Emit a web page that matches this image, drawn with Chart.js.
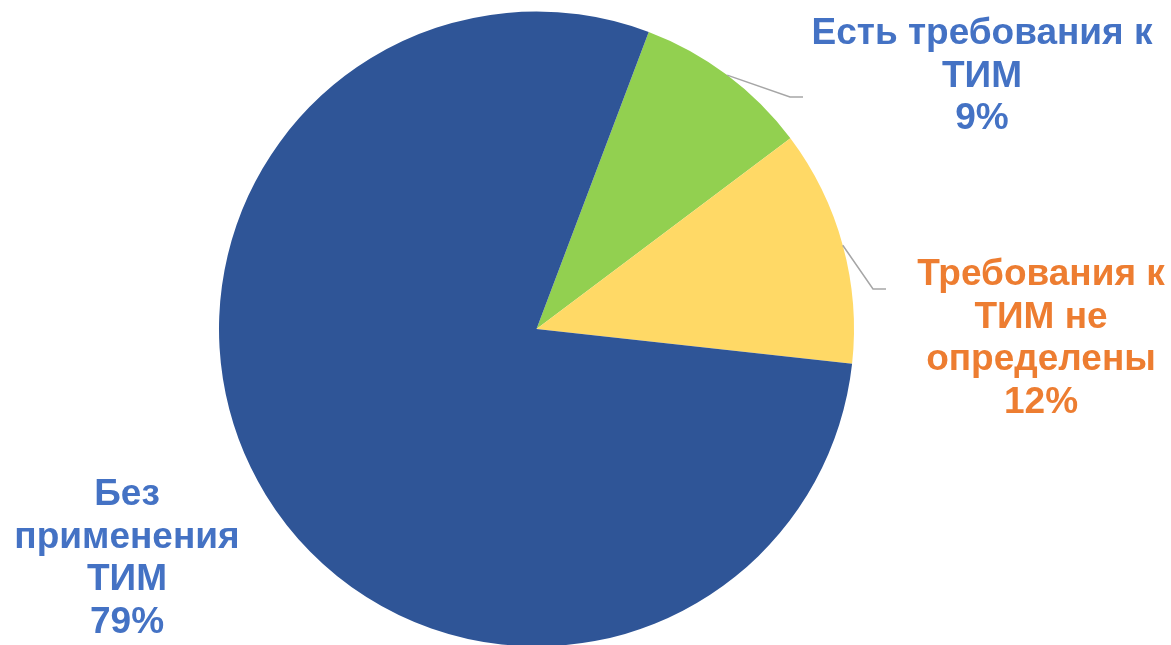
<!DOCTYPE html>
<html>
<head>
  <meta charset="utf-8">
  <title>ТИМ</title>
  <script src="https://cdn.jsdelivr.net/npm/chart.js"></script>
  <style>
    html, body { margin: 0; padding: 0; background: #fff; overflow: hidden; }
    #wrap { position: relative; width: 1171px; height: 660px; }
  </style>
</head>
<body>
  <div id="wrap"><canvas id="grafico"></canvas></div>

  <script>
    // данные
    var categories = ['Есть требования к ТИМ', 'Требования к ТИМ не определены', 'Без применения ТИМ'];
    var shares = [9, 12, 79];
    var sliceColors = ['#92D050', '#FFD966', '#2F5597'];
    var labelColors = ['#4472C4', '#ED7D31', '#4472C4'];
    var labelLines = [
      ['Есть требования к', 'ТИМ'],
      ['Требования к', 'ТИМ не', 'определены'],
      ['Без', 'применения', 'ТИМ']
    ];

    // где стоят подписи (центр текста, первая базовая линия) и изгиб выноски
    var labelPlace = [
      { x: 982, y: 44, elbow: [790, 97], end: [803, 97] },
      { x: 1041, y: 285, elbow: [873, 289], end: [886, 289] },
      { x: 127, y: 505, elbow: null, end: null }
    ];

    var pieLabels = {
      id: 'pieLabels',
      afterDatasetsDraw: function (chart) {
        var ctx = chart.ctx;
        var arcs = chart.getDatasetMeta(0).data;
        ctx.save();
        arcs.forEach(function (arc, i) {
          var p = labelPlace[i];
          if (p.elbow) {
            var mid = (arc.startAngle + arc.endAngle) / 2;
            var sx = arc.x + Math.cos(mid) * arc.outerRadius;
            var sy = arc.y + Math.sin(mid) * arc.outerRadius;
            ctx.beginPath();
            ctx.moveTo(sx, sy);
            ctx.lineTo(p.elbow[0], p.elbow[1]);
            ctx.lineTo(p.end[0], p.end[1]);
            ctx.strokeStyle = '#A6A6A6';
            ctx.lineWidth = 1.5;
            ctx.stroke();
          }
          var lines = labelLines[i].concat([shares[i] + '%']);
          ctx.fillStyle = labelColors[i];
          ctx.font = 'bold 37px "Liberation Sans", Arial, sans-serif';
          ctx.textAlign = 'center';
          ctx.textBaseline = 'alphabetic';
          lines.forEach(function (t, k) {
            ctx.fillText(t, p.x, p.y + k * 42.7);
          });
        });
        ctx.restore();
      }
    };

    new Chart(document.getElementById('grafico'), {
      type: 'pie',
      data: {
        labels: categories,
        datasets: [{
          data: shares,
          backgroundColor: sliceColors,
          borderWidth: 0,
          hoverOffset: 0
        }]
      },
      options: {
        responsive: true,
        maintainAspectRatio: false,
        animation: false,
        rotation: 20.7,
        layout: { padding: { left: 219, right: 317, top: 11.5, bottom: 13.5 } },
        plugins: {
          legend: { display: false },
          tooltip: { enabled: false }
        },
        events: []
      },
      plugins: [pieLabels]
    });
  </script>
</body>
</html>
